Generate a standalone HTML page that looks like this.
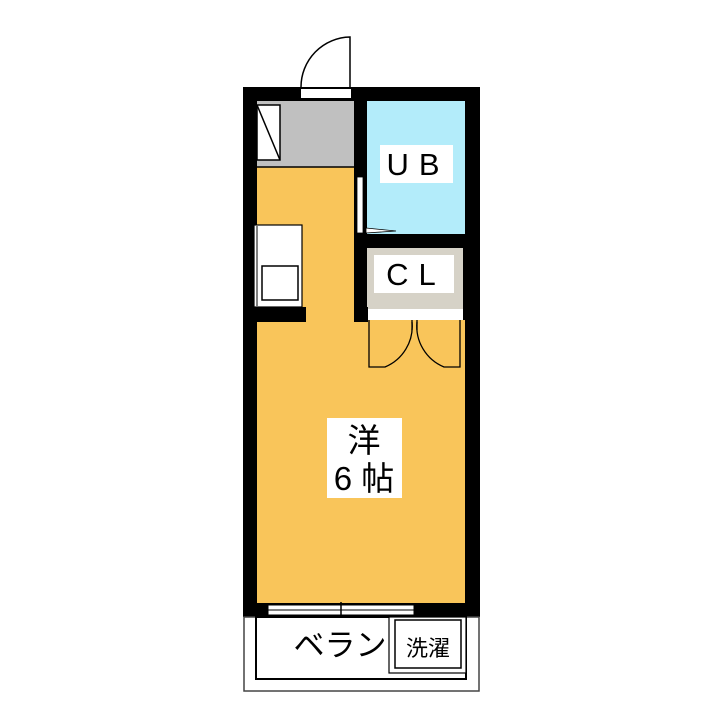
<!DOCTYPE html>
<html><head><meta charset="utf-8"><style>
html,body{margin:0;padding:0;background:#fff;width:720px;height:720px;overflow:hidden}
text{font-family:"Liberation Sans","Noto Sans CJK JP",sans-serif}
</style></head><body>
<svg width="720" height="720" viewBox="0 0 720 720" xmlns="http://www.w3.org/2000/svg">
<rect x="256" y="100" width="100" height="68" fill="#c0c0c0"/>
<rect x="256" y="167" width="100" height="438" fill="#f9c55a"/>
<rect x="356" y="318" width="112" height="287" fill="#f9c55a"/>
<rect x="366" y="100" width="100" height="135" fill="#b3ecfa"/>
<rect x="366" y="247" width="98" height="62" fill="#d6d2c7"/>
<rect x="366" y="309" width="98" height="11" fill="#fff"/>
<line x1="256" y1="167" x2="356" y2="167" stroke="#000" stroke-width="1.5"/>
<rect x="243" y="87" width="237" height="14" fill="#000"/>
<rect x="243" y="87" width="14" height="530" fill="#000"/>
<rect x="465" y="87" width="15" height="530" fill="#000"/>
<rect x="243" y="603" width="237" height="14" fill="#000"/>
<rect x="354" y="87" width="13" height="233" fill="#000"/>
<rect x="354" y="234" width="126" height="14" fill="#000"/>
<rect x="463" y="247" width="5" height="73" fill="#000"/>
<rect x="243" y="307" width="63" height="15" fill="#000"/>
<rect x="354" y="307" width="14" height="15" fill="#000"/>
<rect x="301" y="89" width="50" height="9" fill="#fff"/>
<path d="M301,87 A50,50 0 0 1 350,37 L350,87" fill="#fff" stroke="#000" stroke-width="1.5"/>
<rect x="257" y="105" width="23" height="55" fill="#fff" stroke="#000" stroke-width="1.5"/>
<line x1="257" y1="105" x2="280" y2="160" stroke="#000" stroke-width="1.5"/>
<rect x="357" y="177" width="6" height="56" fill="#fff" stroke="#000" stroke-width="0.8"/>
<path d="M366,228 L396,231 L366,233 Z" fill="#fff" stroke="#000" stroke-width="0.8"/>
<rect x="254" y="225" width="48" height="82" fill="#fff" stroke="#000" stroke-width="1.2"/>
<line x1="257" y1="226" x2="257" y2="306" stroke="#000" stroke-width="1"/>
<rect x="262" y="266" width="36" height="34" fill="#fff" stroke="#000" stroke-width="1.5"/>
<rect x="380" y="145" width="73" height="38" fill="#fff"/>
<text x="418" y="175" font-size="31" text-anchor="middle" letter-spacing="10">UB</text>
<rect x="374" y="255" width="80" height="38" fill="#fff"/>
<text x="416" y="285" font-size="31" text-anchor="middle" letter-spacing="10">CL</text>
<path d="M369,320 L369,367 L385,367 A44,44 0 0 0 412,322" fill="none" stroke="#000" stroke-width="1.3"/>
<path d="M460,320 L460,367 L444,367 A44,44 0 0 1 417,322" fill="none" stroke="#000" stroke-width="1.3"/>
<line x1="412" y1="320" x2="412" y2="330" stroke="#000" stroke-width="1.3"/>
<line x1="417" y1="320" x2="417" y2="330" stroke="#000" stroke-width="1.3"/>
<rect x="327" y="418" width="75" height="80" fill="#fff"/>
<text x="364" y="452" font-size="33" text-anchor="middle">洋</text>
<text x="364" y="490" font-size="33" text-anchor="middle">6 帖</text>
<rect x="268" y="605" width="146" height="10" fill="#fff" stroke="#000" stroke-width="1"/>
<line x1="268" y1="610" x2="414" y2="610" stroke="#000" stroke-width="1"/>
<line x1="341" y1="602" x2="341" y2="618" stroke="#000" stroke-width="1.5"/>
<rect x="244" y="617" width="235" height="74" fill="#fff" stroke="#444" stroke-width="1.5"/>
<rect x="256" y="617" width="210" height="62" fill="#fff" stroke="#000" stroke-width="2"/>
<rect x="389" y="617" width="77" height="56" fill="#fff" stroke="#000" stroke-width="1.2"/>
<rect x="395" y="620" width="66" height="48" fill="#fff" stroke="#000" stroke-width="1.5"/>
<text x="428" y="656" font-size="22" text-anchor="middle">洗濯</text>
<text x="340" y="656" font-size="31" text-anchor="middle">ベラン</text>
</svg>
</body></html>
